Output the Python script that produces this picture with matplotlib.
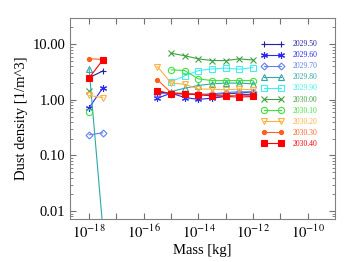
import numpy as np
import matplotlib
matplotlib.use('Agg')
import matplotlib.pyplot as plt

plt.rcParams['font.family'] = ['Liberation Serif', 'DejaVu Serif']
plt.rcParams['mathtext.fontset'] = 'stix'

# 质量 (kg)：左边两个点，右边八个点
mass = [1e-18, 10**-17.5,
        10**-15.5, 1e-15, 10**-14.5, 1e-14, 10**-13.5, 1e-13, 10**-12.5, 1e-12]

labels = ['2029.50', '2029.60', '2029.70', '2029.80', '2029.90',
          '2030.00', '2030.10', '2030.20', '2030.30', '2030.40']

nan = np.nan
d2029_50 = [2.5, 3.3, 1.40, 1.30, 1.30, 1.25, 1.25, 1.30, 1.32, 1.40]
d2029_60 = [0.72, 1.64, 1.07, 1.32, 1.10, 1.02, 1.07, 1.15, 1.23, 1.27]
d2029_70 = [0.235, 0.255, 1.30, 1.30, 1.30, 1.25, 1.28, 1.35, 1.40, 1.38]
d2029_80 = [3.6, 0.005, nan, 1.41, 1.62, 1.81, 1.94, 2.00, 2.00, 1.94]
d2029_90 = [nan, nan, nan, 2.13, 2.70, 3.36, 3.60, 3.71, 3.56, 3.80]
d2030_00 = [1.45, nan, nan, 6.9, 6.2, 5.45, 5.08, 5.08, 5.45, 5.2]
d2030_10 = [0.60, nan, nan, 3.46, 3.36, 2.38, 2.22, 2.22, 2.22, 2.22]
d2030_20 = [1.2, 1.1, 3.96, 2.00, 1.91, 1.56, 1.56, 1.51, 1.56, 1.51]
d2030_30 = [5.5, 5.3, 2.29, 1.35, 1.30, 1.25, 1.20, 1.20, 1.20, 1.20]
d2030_40 = [2.48, 5.2, 1.47, 1.28, 1.28, 1.23, 1.18, 1.15, 1.12, 1.15]

series = [d2029_50, d2029_60, d2029_70, d2029_80, d2029_90,
          d2030_00, d2030_10, d2030_20, d2030_30, d2030_40]
colors = ['#2020a0', '#2828f0', '#6080f0', '#30a8a8', '#40f0f0',
          '#40a040', '#40e040', '#ffb040', '#ff6020', '#ff0000']
asterisk = (6, 2, 0)
markers = ['+', asterisk, 'D', '^', 's', 'x', 'o', 'v', 'o', 's']
msizes = [5, 5, 3.5, 4.5, 4.5, 4.5, 4.5, 4.5, 3, 4.5]
filled = [True, True, False, False, False, True, False, False, True, True]

fig = plt.figure(figsize=(3.49, 2.62), dpi=100)
ax = fig.add_axes([0.2006, 0.164, 0.7594, 0.767])

m = np.array(mass)
for vals, lab, c, mk, ms, f in zip(series, labels, colors, markers, msizes, filled):
    v = np.array(vals)
    fc = c if f else 'none'
    # 两组分开画，中间不连线
    ax.plot(m[:2], v[:2], color=c, marker=mk, ms=ms, mfc=fc, mec=c, lw=0.8, mew=0.8)
    ax.plot(m[2:], v[2:], color=c, marker=mk, ms=ms, mfc=fc, mec=c, lw=0.8, mew=0.8,
            label=lab)

ax.set_xscale('log')
ax.set_yscale('log')
ax.set_xlim(2e-19, 1e-9)
ax.set_ylim(0.0072, 29.5)

xt = [10.0**e for e in range(-18, -9)]
ax.set_xticks(xt)
ax.set_xticklabels([r'$10^{%d}$' % e if e % 2 == 0 else '' for e in range(-18, -9)])
ax.xaxis.set_minor_locator(matplotlib.ticker.NullLocator())
ax.set_yticks([0.01, 0.1, 1, 10])
ax.set_yticklabels(['0.01', '0.10', '1.00', '10.00'])

ax.tick_params(which='both', direction='in', top=True, right=True, colors='#707070',
               labelcolor='black', labelsize=10.5)
ax.tick_params(which='major', length=4, width=0.8)
ax.tick_params(which='minor', length=2, width=0.6)
for s in ax.spines.values():
    s.set_color('#808080')
    s.set_linewidth(0.8)

ax.set_xlabel('Mass [kg]', fontsize=10.5, labelpad=2)
ax.set_ylabel('Dust density [1/m^3]', fontsize=10.5, labelpad=3)

leg = ax.legend(loc='upper left', bbox_to_anchor=(0.713, 0.905), frameon=False,
                fontsize=5.5, numpoints=2, handlelength=2.75, handletextpad=1.3,
                labelspacing=0.4, borderaxespad=0)
for t, c in zip(leg.get_texts(), colors):
    t.set_color(c)

fig.savefig('out.png', dpi=100)
